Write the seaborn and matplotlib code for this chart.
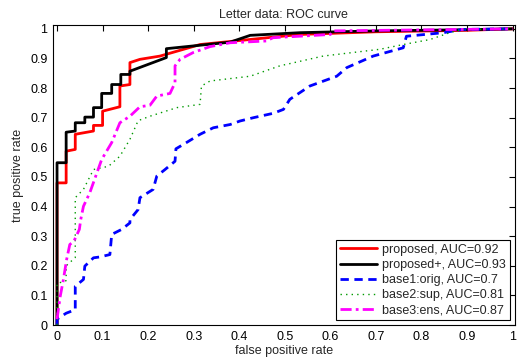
import seaborn as sns
import pandas as pd
import matplotlib
matplotlib.use("Agg")
import matplotlib.pyplot as plt

# ROC points
prop_fpr = [0, 0, 0.02, 0.02, 0.04, 0.04, 0.08, 0.08, 0.10, 0.10, 0.138, 0.138, 0.16, 0.16,
            0.182, 0.226, 0.314, 0.533, 0.7, 0.9, 1.0]
prop_tpr = [0, 0.48, 0.48, 0.587, 0.593, 0.644, 0.655, 0.674, 0.674, 0.722, 0.737, 0.807, 0.812, 0.886,
            0.897, 0.908, 0.947, 0.981, 0.99, 0.995, 1.0]

plus_fpr = [0, 0, 0.02, 0.02, 0.04, 0.04, 0.061, 0.061, 0.08, 0.08, 0.098, 0.098, 0.12, 0.12,
            0.14, 0.14, 0.16, 0.16, 0.24, 0.24, 0.38, 0.424, 0.533, 0.7, 0.9, 1.0]
plus_tpr = [0, 0.548, 0.548, 0.651, 0.655, 0.683, 0.683, 0.702, 0.702, 0.734, 0.734, 0.782, 0.782, 0.812,
            0.812, 0.846, 0.846, 0.857, 0.903, 0.933, 0.955, 0.978, 0.987, 0.993, 0.997, 1.0]

base1_fpr = [0, 0, 0.02, 0.04, 0.04, 0.058, 0.061, 0.08, 0.094, 0.116, 0.12, 0.142, 0.16, 0.16,
             0.178, 0.182, 0.211, 0.219, 0.237, 0.259, 0.261, 0.284, 0.314, 0.343, 0.38, 0.402,
             0.431, 0.475, 0.497, 0.511, 0.555, 0.614, 0.636, 0.694, 0.76, 0.767, 0.848, 0.89, 1.0]
base1_tpr = [0, 0.02, 0.04, 0.052, 0.131, 0.154, 0.199, 0.227, 0.23, 0.238, 0.306, 0.323, 0.345, 0.356,
             0.39, 0.43, 0.458, 0.503, 0.525, 0.553, 0.595, 0.616, 0.644, 0.666, 0.677, 0.689,
             0.7, 0.715, 0.728, 0.762, 0.807, 0.84, 0.869, 0.908, 0.936, 0.975, 0.987, 0.998, 1.0]

base2_fpr = [0, 0, 0.02, 0.02, 0.04, 0.04, 0.058, 0.08, 0.113, 0.138, 0.16, 0.178, 0.204, 0.263,
             0.314, 0.317, 0.336, 0.424, 0.489, 0.584, 0.709, 0.76, 0.819, 0.862, 0.89, 1.0]
base2_tpr = [0, 0.14, 0.15, 0.2, 0.228, 0.43, 0.458, 0.525, 0.536, 0.57, 0.627, 0.69, 0.705, 0.734,
             0.745, 0.807, 0.824, 0.84, 0.875, 0.908, 0.931, 0.947, 0.964, 0.987, 0.998, 1.0]

base3_fpr = [0, 0.007, 0.014, 0.021, 0.028, 0.037, 0.049, 0.052, 0.058, 0.072, 0.098, 0.12, 0.138,
             0.16, 0.182, 0.204, 0.219, 0.248, 0.259, 0.259, 0.27, 0.299, 0.336, 0.38, 0.46,
             0.474, 0.6, 0.606, 1.0]
base3_tpr = [0.02, 0.097, 0.154, 0.221, 0.272, 0.283, 0.323, 0.356, 0.401, 0.447, 0.559, 0.616, 0.683,
             0.705, 0.737, 0.742, 0.773, 0.782, 0.818, 0.875, 0.897, 0.92, 0.94, 0.953, 0.959,
             0.97, 0.981, 0.993, 1.0]

labels = ["proposed, AUC=0.92", "proposed+, AUC=0.93", "base1:orig, AUC=0.7",
          "base2:sup, AUC=0.81", "base3:ens, AUC=0.87"]
tick_vals = [0, 0.1, 0.2, 0.3, 0.4, 0.5, 0.6, 0.7, 0.8, 0.9, 1]
tick_text = ["0", "0.1", "0.2", "0.3", "0.4", "0.5", "0.6", "0.7", "0.8", "0.9", "1"]

sns.set_style("white")
plt.rcParams['font.family'] = ['Liberation Sans', 'DejaVu Sans']
plt.rcParams['font.size'] = 9

fig = plt.figure(figsize=(5.19, 3.62), dpi=100)
ax = fig.add_axes([0.102, 0.102, 0.890, 0.829])

series = [
    (prop_fpr, prop_tpr, labels[0], 'red', 2, '-'),
    (plus_fpr, plus_tpr, labels[1], 'black', 2, '-'),
    (base1_fpr, base1_tpr, labels[2], 'blue', 2, (0, (3, 2))),
    (base2_fpr, base2_tpr, labels[3], (0, 0.6, 0), 1, (0, (1, 3))),
    (base3_fpr, base3_tpr, labels[4], 'magenta', 2, (0, (4, 1.5, 1, 1.5))),
]
for fpr, tpr, lab, col, lw, ls in series:
    df = pd.DataFrame({'fpr': fpr, 'tpr': tpr})
    sns.lineplot(data=df, x='fpr', y='tpr', ax=ax, color=col, lw=lw,
                 linestyle=ls, label=lab, sort=False, estimator=None)

ax.set_xlim(-0.009, 1.005)
ax.set_ylim(0, 1.013)
ax.set_xticks(tick_vals)
ax.set_xticklabels(tick_text)
ax.set_yticks(tick_vals)
ax.set_yticklabels(tick_text)
ax.tick_params(direction='in', top=True, right=True, length=4, width=0.8,
               labelsize=9, pad=4, colors='black')
for sp in ax.spines.values():
    sp.set_color('black')
    sp.set_linewidth(0.8)

ax.set_xlabel('false positive rate', fontsize=9, labelpad=2)
ax.set_ylabel('true positive rate', fontsize=9, labelpad=4)
ax.set_title('Letter data: ROC curve', fontsize=9, pad=5)

leg = ax.legend(loc='lower right', fontsize=9, frameon=True, fancybox=False,
                framealpha=1, edgecolor='black', handlelength=3.0,
                borderaxespad=0.4, labelspacing=0.25, handletextpad=0.4,
                borderpad=0.3)
leg.get_frame().set_linewidth(0.8)

fig.savefig('out.png', dpi=100)
